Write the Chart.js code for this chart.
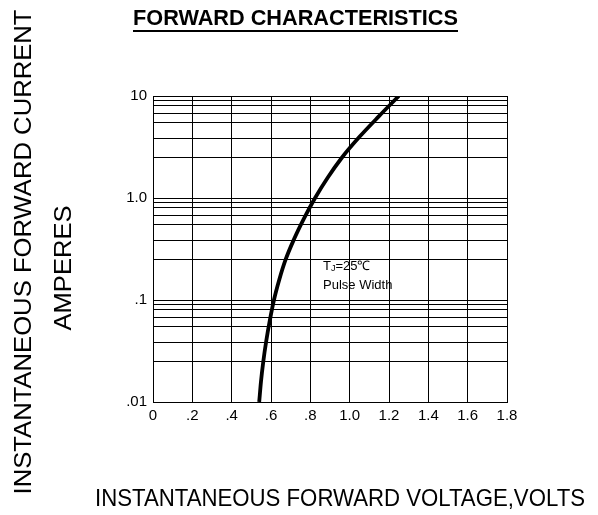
<!DOCTYPE html>
<html>
<head>
<meta charset="utf-8">
<script src="https://cdn.jsdelivr.net/npm/chart.js@4.4.1/dist/chart.umd.min.js"></script>
<style>
  html, body { margin: 0; padding: 0; background: #fff; }
  #c { display: block; }
</style>
</head>
<body>
<canvas id="c" width="598" height="515"></canvas>
<script>
// curve: forward voltage (V) vs current (A)
const voltage = [0.540, 0.549, 0.561, 0.576, 0.594, 0.615, 0.642, 0.675, 0.718, 0.768, 0.824, 0.888, 0.962, 1.050, 1.148, 1.25];
const current = [0.01, 0.0158, 0.0251, 0.0398, 0.0631, 0.1, 0.158, 0.251, 0.398, 0.631, 1.0, 1.58, 2.51, 3.98, 6.31, 10];

const xTicks = [0, 0.2, 0.4, 0.6, 0.8, 1.0, 1.2, 1.4, 1.6, 1.8];
const xLabels = ["0", ".2", ".4", ".6", ".8", "1.0", "1.2", "1.4", "1.6", "1.8"];
const yMajor = [0.01, 0.1, 1, 10];
const yLabels = [".01", ".1", "1.0", "10"];
const yMinorMantissa = [9, 8.1, 6.7, 5.5, 3.8, 2.5]; // grid lines inside each decade

const FONT = 'Arial, "Liberation Sans", sans-serif';
Chart.defaults.font.family = FONT;
Chart.defaults.color = "#000";

function yGridValues() {
  const out = [];
  yMajor.forEach((m, i) => {
    out.push(m);
    if (i < yMajor.length - 1) yMinorMantissa.forEach(f => out.push(m * f));
  });
  return out.sort((a, b) => a - b);
}

// squeeze text to a given width, centred on x
function fitText(ctx, text, x, y, width, font, rot) {
  ctx.save();
  ctx.font = font;
  const w = ctx.measureText(text).width;
  ctx.translate(x, y);
  if (rot) ctx.rotate(rot);
  ctx.scale(width / w, 1);
  ctx.textAlign = "center";
  ctx.textBaseline = "alphabetic";
  ctx.fillStyle = "#000";
  ctx.fillText(text, 0, 0);
  ctx.restore();
}

const labelsPlugin = {
  id: "labels",
  afterDraw(chart) {
    const ctx = chart.ctx;
    // title
    fitText(ctx, "FORWARD CHARACTERISTICS", 295.5, 25, 325, "bold 22px " + FONT);
    ctx.fillStyle = "#000";
    ctx.fillRect(133, 30, 325, 2);
    // axis titles
    fitText(ctx, "INSTANTANEOUS FORWARD CURRENT", 31, 252, 485, "24px " + FONT, -Math.PI / 2);
    fitText(ctx, "AMPERES", 71, 268, 125, "24px " + FONT, -Math.PI / 2);
    fitText(ctx, "INSTANTANEOUS FORWARD VOLTAGE,VOLTS", 340, 506, 490, "24px " + FONT);
    // note inside the plot
    ctx.save();
    ctx.fillStyle = "#000";
    ctx.textAlign = "left";
    ctx.font = "13px " + FONT;
    let x = 323;
    ctx.fillText("T", x, 270);
    x += ctx.measureText("T").width;
    ctx.font = "9px " + FONT;
    ctx.fillText("J", x, 271);
    x += ctx.measureText("J").width;
    ctx.font = "13px " + FONT;
    ctx.fillText("=25\u2103", x, 270);
    ctx.fillText("Pulse Width", 323, 289);
    ctx.restore();
  }
};

new Chart(document.getElementById("c"), {
  type: "line",
  data: {
    datasets: [{
      data: voltage.map((v, i) => ({ x: v, y: current[i] })),
      borderColor: "#000",
      borderWidth: 3.8,
      pointRadius: 0,
      fill: false,
      cubicInterpolationMode: "monotone"
    }]
  },
  options: {
    responsive: false,
    animation: false,
    devicePixelRatio: 1,
    layout: { padding: { top: 96, right: 91, left: 0, bottom: 0 } },
    plugins: { legend: { display: false }, tooltip: { enabled: false } },
    scales: {
      x: {
        type: "linear",
        min: 0, max: 1.8,
        afterBuildTicks: s => { s.ticks = xTicks.map(v => ({ value: v })); },
        afterFit: s => { s.height = 113; },
        grid: { color: "#000", lineWidth: 1, drawTicks: false },
        border: { color: "#000", width: 1 },
        ticks: {
          autoSkip: false, maxRotation: 0, padding: 5,
          font: { size: 15 }, color: "#000",
          callback: (v, i) => xLabels[i]
        }
      },
      y: {
        type: "logarithmic",
        min: 0.01, max: 10,
        afterBuildTicks: s => { s.ticks = yGridValues().map(v => ({ value: v })); },
        afterFit: s => { s.width = 153; },
        grid: { color: "#000", lineWidth: 1, drawTicks: false },
        border: { color: "#000", width: 1 },
        ticks: {
          autoSkip: false, padding: 6,
          font: { size: 15 }, color: "#000",
          callback: v => {
            const k = yMajor.findIndex(m => Math.abs(m - v) / m < 1e-6);
            return k < 0 ? "" : yLabels[k];
          }
        }
      }
    }
  },
  plugins: [labelsPlugin]
});
</script>
</body>
</html>
